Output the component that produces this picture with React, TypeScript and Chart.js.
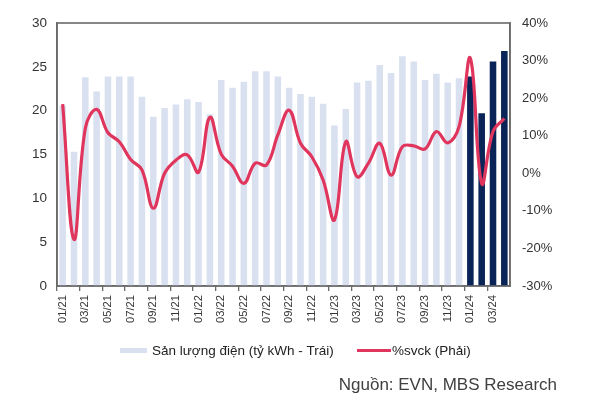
import React, { useEffect, useRef } from "react";
import { Chart, registerables } from "chart.js";

Chart.register(...registerables);

const months: string[] = [
  "01/21","02/21","03/21","04/21","05/21","06/21","07/21","08/21","09/21","10/21","11/21","12/21",
  "01/22","02/22","03/22","04/22","05/22","06/22","07/22","08/22","09/22","10/22","11/22","12/22",
  "01/23","02/23","03/23","04/23","05/23","06/23","07/23","08/23","09/23","10/23","11/23","12/23",
  "01/24","02/24","03/24","04/24",
];

const output: number[] = [
  20.6, 15.3, 23.8, 22.2, 23.9, 23.9, 23.9, 21.6, 19.3, 20.3, 20.7, 21.3,
  21.0, 19.6, 23.5, 22.6, 23.3, 24.5, 24.5, 23.9, 22.6, 21.9, 21.6, 20.8,
  18.3, 20.2, 23.2, 23.4, 25.2, 24.3, 26.2, 25.6, 23.5, 24.2, 23.2, 23.7,
  23.9, 19.7, 25.6, 26.8,
];

const yoy: number[] = [
  18.4, -17.6, 12.0, 17.0, 10.8, 8.4, 3.7, 0.9, -9.3, 0.0, 3.5, 4.9,
  0.3, 14.9, 5.1, 1.9, -2.7, 2.7, 2.2, 10.2, 16.8, 8.0, 4.4, -1.8,
  -12.4, 8.4, -0.9, 2.7, 8.0, -0.5, 7.1, 7.3, 6.5, 11.1, 8.1, 12.4,
  30.6, -2.7, 11.1, 14.6,
];

const leftTicks: number[] = [0, 5, 10, 15, 20, 25, 30];
const rightTicks: number[] = [-30, -20, -10, 0, 10, 20, 30, 40];

const seriesBarLabel = "Sản lượng điện (tỷ kWh - Trái)";
const seriesLineLabel = "%svck (Phải)";
const sourceText = "Nguồn: EVN, MBS Research";

const LIGHT = "#d9e1f1";
const DARK = "#0b2458";
const RED = "#e0355c";
const FONT = "'Liberation Sans', Arial, sans-serif";

export default function App() {
  const ref = useRef<HTMLCanvasElement | null>(null);

  useEffect(() => {
    if (!ref.current) return;
    const barColors = months.map((m) => (m.endsWith("/24") ? DARK : LIGHT));

    const framePlugin = {
      id: "frameAndLegend",
      afterDraw(chart: any) {
        const { ctx, chartArea } = chart;
        ctx.save();
        ctx.strokeStyle = "#6a6a6a";
        ctx.lineWidth = 1.6;
        ctx.strokeRect(chartArea.left, chartArea.top, chartArea.right - chartArea.left, chartArea.bottom - chartArea.top);

        // legend
        ctx.fillStyle = LIGHT;
        ctx.fillRect(120, 348, 27, 5);
        ctx.font = `13.5px ${FONT}`;
        ctx.fillStyle = "#222";
        ctx.textBaseline = "middle";
        ctx.textAlign = "left";
        ctx.fillText(seriesBarLabel, 152, 351);
        ctx.strokeStyle = RED;
        ctx.lineWidth = 3;
        ctx.beginPath();
        ctx.moveTo(357, 350.5);
        ctx.lineTo(391, 350.5);
        ctx.stroke();
        ctx.fillText(seriesLineLabel, 392, 351);

        // source
        ctx.font = `17px ${FONT}`;
        ctx.fillStyle = "#404040";
        ctx.textAlign = "right";
        ctx.textBaseline = "alphabetic";
        ctx.fillText(sourceText, 557, 390);
        ctx.restore();
      },
    };

    const chart = new Chart(ref.current, {
      type: "bar",
      data: {
        labels: months,
        datasets: [
          {
            type: "line",
            label: seriesLineLabel,
            data: yoy,
            yAxisID: "y1",
            borderColor: RED,
            borderWidth: 3.2,
            pointRadius: 0,
            tension: 0.4,
            fill: false,
            order: 0,
          } as any,
          {
            type: "bar",
            label: seriesBarLabel,
            data: output,
            yAxisID: "y",
            backgroundColor: barColors,
            barPercentage: 0.58,
            categoryPercentage: 1,
            order: 1,
          },
        ],
      },
      options: {
        animation: false,
        responsive: false,
        maintainAspectRatio: false,
        layout: { padding: { top: 23, left: 0, right: 0, bottom: 0 } },
        plugins: {
          legend: { display: false },
          tooltip: { enabled: false },
          title: { display: false },
        },
        scales: {
          x: {
            offset: true,
            grid: {
              offset: true,
              drawOnChartArea: false,
              drawTicks: true,
              tickLength: 5,
              lineWidth: 1.3,
              color: (c: any) => (c.index % 2 === 0 ? "#6a6a6a" : "rgba(0,0,0,0)"),
            },
            border: { display: true, color: "#6a6a6a", width: 1.6 },
            ticks: {
              autoSkip: false,
              maxRotation: 90,
              minRotation: 90,
              padding: 4,
              color: "#333",
              font: { family: FONT, size: 11.2 },
              callback: (_v: any, i: number) => (i % 2 === 0 ? months[i] : ""),
            },
            afterFit: (s: any) => {
              s.height = 120;
            },
          },
          y: {
            position: "left",
            min: 0,
            max: 30,
            afterBuildTicks: (s: any) => {
              s.ticks = leftTicks.map((v) => ({ value: v }));
            },
            grid: { display: false, drawTicks: false },
            border: { display: true, color: "#6a6a6a", width: 1.6 },
            ticks: {
              padding: 10,
              color: "#333",
              font: { family: FONT, size: 13.5 },
            },
            afterFit: (s: any) => {
              s.width = 57;
            },
          },
          y1: {
            position: "right",
            min: -30,
            max: 40,
            afterBuildTicks: (s: any) => {
              s.ticks = rightTicks.map((v) => ({ value: v }));
            },
            grid: { display: false, drawTicks: false },
            border: { display: true, color: "#6a6a6a", width: 1.6 },
            ticks: {
              padding: 12,
              color: "#333",
              font: { family: FONT, size: 13 },
              callback: (v: any) => `${v}%`,
            },
            afterFit: (s: any) => {
              s.width = 90;
            },
          },
        },
      } as any,
      plugins: [framePlugin],
    });

    return () => chart.destroy();
  }, []);

  return (
    <div style={{ position: "fixed", left: 0, top: 0, width: 600, height: 406, background: "#fff" }}>
      <canvas ref={ref} width={600} height={406} style={{ width: 600, height: 406, display: "block" }} />
    </div>
  );
}
